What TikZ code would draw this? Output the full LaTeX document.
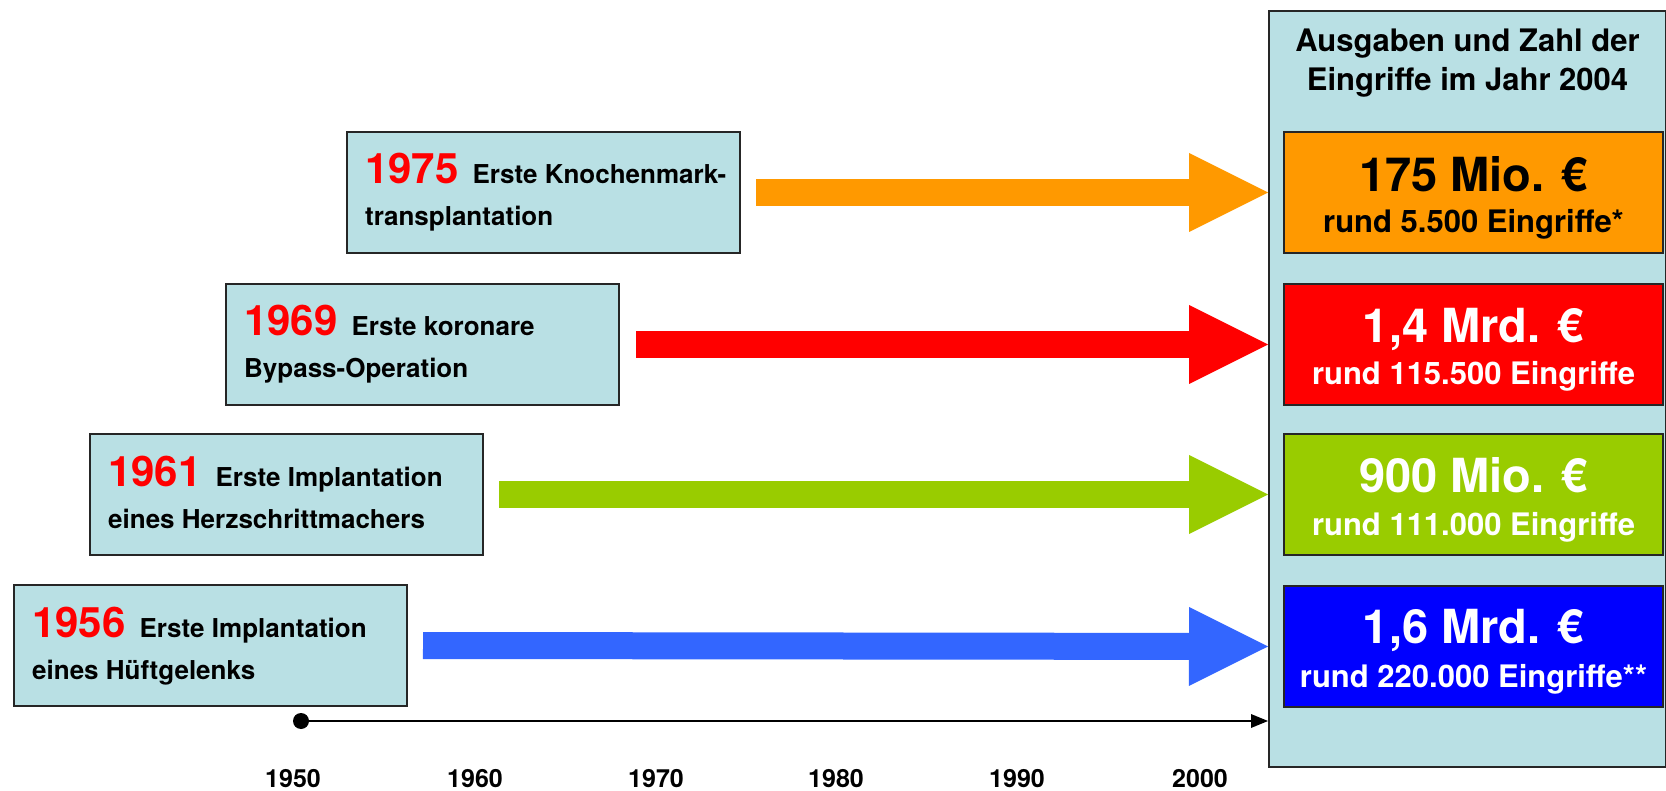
\documentclass[tikz,border=0pt]{standalone}
\usepackage{fontspec}
\setmainfont{TeX Gyre Heros}
\usetikzlibrary{arrows.meta,calc}
\definecolor{paleblue}{RGB}{185,224,228}
\definecolor{arrOrange}{RGB}{255,153,0}
\definecolor{arrRed}{RGB}{255,0,0}
\definecolor{arrGreen}{RGB}{153,204,0}
\definecolor{arrBlue}{RGB}{51,102,255}
\definecolor{boxBlue}{RGB}{0,0,255}
\newcommand{\fsz}[1]{\fontsize{#1}{#1}\selectfont}
\begin{document}
\begin{tikzpicture}[x=1pt,y=-1pt,
  every node/.style={font=\bfseries},
  eventbox/.style={draw=black!85, line width=2pt, fill=paleblue, inner sep=0pt,
    anchor=north west, minimum width=393pt, minimum height=121pt},
  valbox/.style={draw=black!85, line width=2pt, inner sep=0pt,
    anchor=north west, minimum width=379pt, minimum height=121pt},
  linetext/.style={anchor=base west, inner sep=0pt},
  ctext/.style={anchor=base, inner sep=0pt},
  bigarrow/.style={line width=27pt, -{Triangle[length=79pt,width=79pt,line width=0pt]}},
  yearlabel/.style={anchor=base, inner sep=0pt, font=\bfseries\fsz{25}}
]
\useasboundingbox (0,0) rectangle (1666,791);

% right panel
\node[draw=black!85, line width=2pt, fill=paleblue, inner sep=0pt, anchor=north west,
      minimum width=397pt, minimum height=756pt] (panel) at (1268,10) {};
\node[ctext, font=\bfseries\fsz{31}] (t1) at ($(panel.north)+(0,42)$) {Ausgaben und Zahl der};
\node[ctext, font=\bfseries\fsz{31}] (t2) at ($(panel.north)+(0,81)$) {Eingriffe im Jahr 2004};

% value boxes
\node[valbox, fill=arrOrange] (vo) at (1283,131) {};
\node[valbox, fill=arrRed]    (vr) at (1283,283) {};
\node[valbox, fill=arrGreen]  (vg) at (1283,433) {};
\node[valbox, fill=boxBlue]   (vb) at (1283,585) {};

\node[ctext, font=\bfseries\fsz{47}] (vo1) at ($(vo.north)+(0,61)$) {175 Mio. €};
\node[ctext, font=\bfseries\fsz{31}] (vo2) at ($(vo.north)+(0,102)$) {rund 5.500 Eingriffe*};
\node[ctext, text=white, font=\bfseries\fsz{47}] (vr1) at ($(vr.north)+(0,60)$) {1,4 Mrd. €};
\node[ctext, text=white, font=\bfseries\fsz{31}] (vr2) at ($(vr.north)+(0,102)$) {rund 115.500 Eingriffe};
\node[ctext, text=white, font=\bfseries\fsz{47}] (vg1) at ($(vg.north)+(0,60)$) {900 Mio. €};
\node[ctext, text=white, font=\bfseries\fsz{31}] (vg2) at ($(vg.north)+(0,102)$) {rund 111.000 Eingriffe};
\node[ctext, text=white, font=\bfseries\fsz{47}] (vb1) at ($(vb.north)+(0,58)$) {1,6 Mrd. €};
\node[ctext, text=white, font=\bfseries\fsz{31}] (vb2) at ($(vb.north)+(0,102)$) {rund 220.000 Eingriffe**};

% event boxes
\node[eventbox] (e75) at (346,131) {};
\node[eventbox] (e69) at (225,283) {};
\node[eventbox] (e61) at (89,433) {};
\node[eventbox] (e56) at (13,584) {};

\node[linetext] (e75a) at ($(e75.north west)+(19,53)$) {{\fsz{42}\color{red}1975}\hspace{14pt}{\fsz{26}Erste Knochenmark-}};
\node[linetext] (e75b) at ($(e75.north west)+(19,95)$) {\fsz{26}transplantation};
\node[linetext] (e69a) at ($(e69.north west)+(19,53)$) {{\fsz{42}\color{red}1969}\hspace{14pt}{\fsz{26}Erste koronare}};
\node[linetext] (e69b) at ($(e69.north west)+(19,95)$) {\fsz{26}Bypass-Operation};
\node[linetext] (e61a) at ($(e61.north west)+(19,53)$) {{\fsz{42}\color{red}1961}\hspace{14pt}{\fsz{26}Erste Implantation}};
\node[linetext] (e61b) at ($(e61.north west)+(19,95)$) {\fsz{26}eines Herzschrittmachers};
\node[linetext] (e56a) at ($(e56.north west)+(19,53)$) {{\fsz{42}\color{red}1956}\hspace{14pt}{\fsz{26}Erste Implantation}};
\node[linetext] (e56b) at ($(e56.north west)+(19,95)$) {\fsz{26}eines Hüftgelenks};

% big arrows
\draw[bigarrow, arrOrange] ([xshift=15pt]e75.east) -- (panel.west |- vo.west);
\draw[bigarrow, arrRed]    ([xshift=16pt]e69.east) -- (panel.west |- vr.west);
\draw[bigarrow, arrGreen]  ([xshift=15pt]e61.east) -- (panel.west |- vg.west);
\draw[bigarrow, arrBlue]   ([xshift=15pt]e56.east) -- (panel.west |- vb.west);

% timeline
\node[circle, fill=black, minimum size=16pt, inner sep=0pt] (dot) at (301,721) {};
\coordinate (tend) at (panel.west |- dot);
\draw[line width=2pt, -{Triangle[length=17pt,width=14pt,line width=0pt]}] (dot.center) -- (tend);

\node[yearlabel] (y1950) at (293,787) {1950};
\node[yearlabel] (y1960) at (475,787) {1960};
\node[yearlabel] (y1970) at (656,787) {1970};
\node[yearlabel] (y1980) at (836,787) {1980};
\node[yearlabel] (y1990) at (1017,787) {1990};
\node[yearlabel] (y2000) at (1200,787) {2000};
\end{tikzpicture}
\end{document}
